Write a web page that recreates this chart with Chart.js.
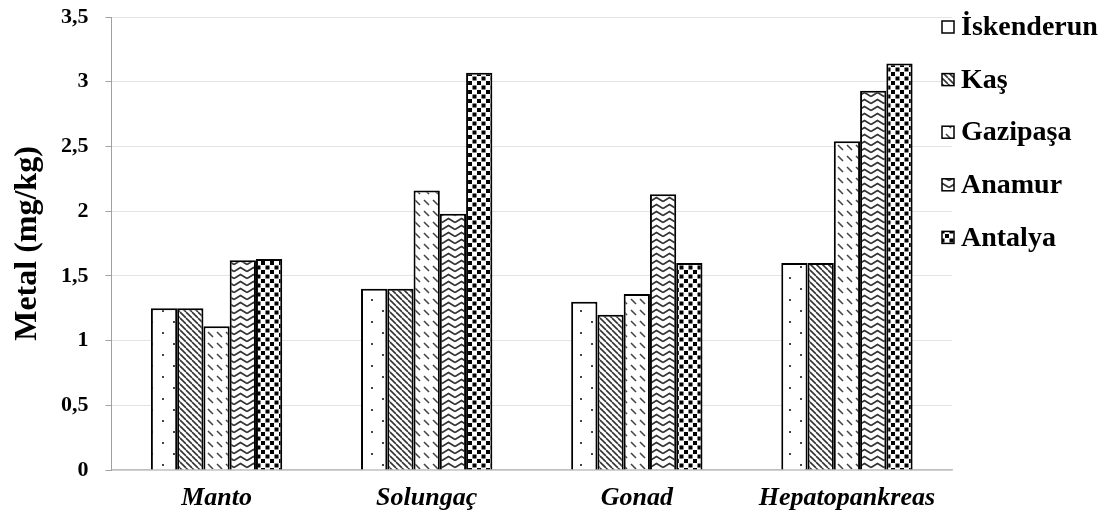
<!DOCTYPE html>
<html>
<head>
<meta charset="utf-8">
<script src="https://cdn.jsdelivr.net/npm/chart.js@4.4.1/dist/chart.umd.min.js"></script>
<style>
  html, body { margin: 0; padding: 0; background: #ffffff; }
  #wrap { width: 1115px; height: 521px; position: relative; }
</style>
</head>
<body>
<div id="wrap"><canvas id="chart"></canvas></div>
<script>
// Tissue categories and metal concentrations (mg/kg) for each station
const categories = ['Manto', 'Solungaç', 'Gonad', 'Hepatopankreas'];
const seriesNames = ['İskenderun', 'Kaş', 'Gazipaşa', 'Anamur', 'Antalya'];
const iskenderun = [1.25, 1.40, 1.30, 1.60];
const kas        = [1.25, 1.40, 1.20, 1.60];
const gazipasa   = [1.11, 2.16, 1.36, 2.54];
const anamur     = [1.62, 1.98, 2.13, 2.93];
const antalya    = [1.63, 3.07, 1.60, 3.14];
const yMax = 3.5;
const yStep = 0.5;

const FONT = '"Liberation Serif", "Times New Roman", serif';

// ---- Monochrome fill patterns ----
function makeTile(w, h, draw) {
  const c = document.createElement('canvas');
  c.width = w; c.height = h;
  const g = c.getContext('2d');
  g.fillStyle = '#ffffff';
  g.fillRect(0, 0, w, h);
  draw(g, w, h);
  return document.createElement('canvas').getContext('2d').createPattern(c, 'repeat');
}

// sparse dots
const dotPattern = makeTile(22, 22, (g) => {
  g.fillStyle = '#444';
  g.fillRect(8, 2, 2, 2);
  g.fillRect(19, 13, 2, 2);
});

// dense backslash hatching
const hatchPattern = makeTile(6, 6, (g, w, h) => {
  g.strokeStyle = '#333';
  g.lineWidth = 1.6;
  for (let o = -w; o <= w; o += w) {
    g.beginPath();
    g.moveTo(o, 0);
    g.lineTo(o + w, h);
    g.stroke();
  }
});

// dashed backslash diagonals
const dashPattern = makeTile(9, 11, (g) => {
  g.strokeStyle = '#444';
  g.lineWidth = 1.6;
  g.beginPath();
  g.moveTo(1, 2);
  g.lineTo(6, 7);
  g.stroke();
});

// wavy lines
const wavePattern = makeTile(13, 7, (g) => {
  g.strokeStyle = '#333';
  g.lineWidth = 1.6;
  g.beginPath();
  g.moveTo(0, 5.5);
  g.lineTo(6.5, 1.5);
  g.lineTo(13, 5.5);
  g.stroke();
});

// dense black squares
const squarePattern = makeTile(9, 9, (g) => {
  g.fillStyle = '#000';
  g.fillRect(0, 0, 4, 4);
  g.fillRect(4.5, 4.5, 4, 4);
});

const patterns = [dotPattern, hatchPattern, dashPattern, wavePattern, squarePattern];
const values = [iskenderun, kas, gazipasa, anamur, antalya];

const datasets = seriesNames.map((name, i) => ({
  label: name,
  data: values[i],
  backgroundColor: patterns[i],
  borderColor: '#000000',
  borderWidth: 2,
  categoryPercentage: 0.625,
  barPercentage: 1.0
}));

// Legend drawn to the right of the plot area
const sideLegend = {
  id: 'sideLegend',
  afterDraw(chart) {
    const ctx = chart.ctx;
    const area = chart.chartArea;
    const box = 12;
    const x0 = area.right - 10;
    ctx.save();
    ctx.font = 'bold 28px ' + FONT;
    ctx.textBaseline = 'middle';
    ctx.textAlign = 'left';
    chart.data.datasets.forEach((ds, i) => {
      const cy = area.top + 10 + i * 52.6;
      ctx.fillStyle = ds.backgroundColor;
      ctx.fillRect(x0, cy - box / 2, box, box);
      ctx.lineWidth = 1.5;
      ctx.strokeStyle = '#000';
      ctx.strokeRect(x0, cy - box / 2, box, box);
      ctx.fillStyle = '#000';
      ctx.fillText(ds.label, x0 + box + 7, cy + 1);
    });
    ctx.restore();
  }
};

new Chart(document.getElementById('chart'), {
  type: 'bar',
  data: { labels: categories, datasets },
  plugins: [sideLegend],
  options: {
    responsive: true,
    maintainAspectRatio: false,
    animation: false,
    layout: { padding: { left: 12, right: 163, top: 0, bottom: 3 } },
    plugins: {
      legend: { display: false },
      tooltip: { enabled: false }
    },
    scales: {
      x: {
        grid: { display: false },
        border: { display: true, color: '#bfbfbf', width: 1.5 },
        ticks: {
          color: '#000',
          padding: 7,
          font: { family: FONT, size: 26, weight: 'bold', style: 'italic', lineHeight: 1.0 }
        }
      },
      y: {
        min: 0,
        max: yMax,
        ticks: {
          stepSize: yStep,
          color: '#000',
          padding: 17,
          font: { family: FONT, size: 22, weight: 'bold', lineHeight: 0 },
          callback: (v) => String(v).replace('.', ',')
        },
        grid: {
          color: '#e3e3e3',
          lineWidth: 1,
          tickLength: 6,
          tickColor: '#a0a0a0'
        },
        border: { display: true, color: '#a0a0a0', width: 1 },
        title: {
          display: true,
          text: 'Metal (mg/kg)',
          color: '#000',
          padding: { top: 0, bottom: 0 },
          font: { family: FONT, size: 32, weight: 'bold', lineHeight: 1.0 }
        }
      }
    }
  }
});
</script>
</body>
</html>
